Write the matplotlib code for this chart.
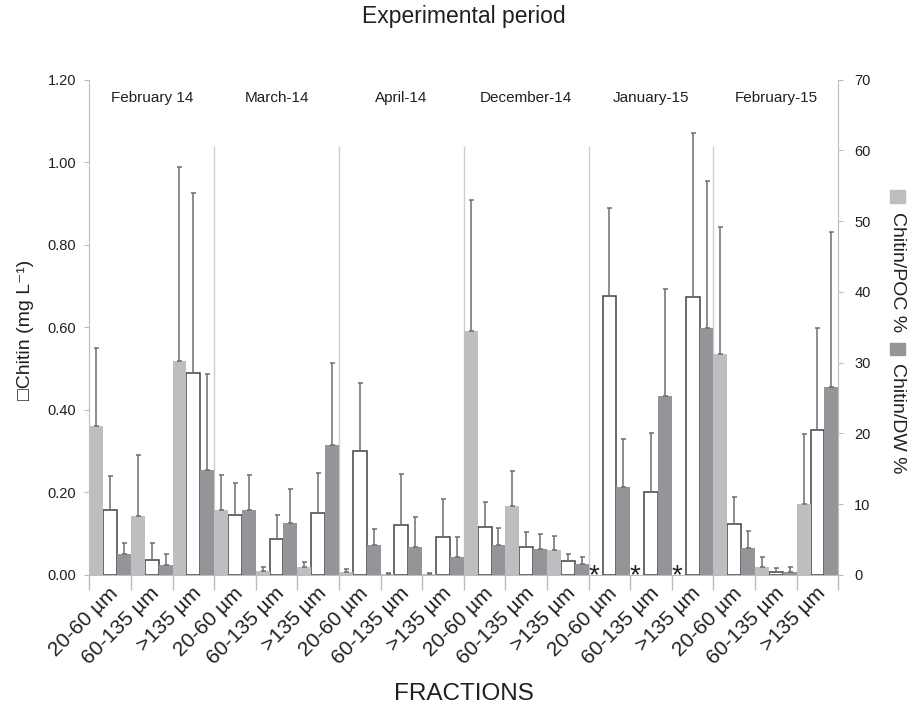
import matplotlib
matplotlib.use('Agg')
import matplotlib.pyplot as plt
import matplotlib.transforms as mtransforms
from matplotlib.patches import Rectangle
import numpy as np

nan = np.nan

periods = ['February 14', 'March-14', 'April-14', 'December-14', 'January-15', 'February-15']
fractions = ['20-60 µm', '60-135 µm', '>135 µm']

# Chitin concentration (mg/L) – white bars, left axis
chitin_mg = [0.157, 0.0375, 0.488, 0.146, 0.087, 0.151, 0.301, 0.121, 0.091,
             0.116, 0.068, 0.033, 0.676, 0.202, 0.673, 0.124, 0.007, 0.352]
chitin_mg_sd = [0.082, 0.0395, 0.436, 0.078, 0.058, 0.096, 0.163, 0.123, 0.092,
                0.062, 0.036, 0.018, 0.214, 0.143, 0.398, 0.065, 0.011, 0.247]
# Chitin/POC % – light grey bars, right axis (nan = not determined, '*')
poc_pct = [21.0, 8.4, 30.3, 9.2, 0.6, 1.1, 0.4, 0.15, 0.1,
           34.4, 9.7, 3.6, nan, nan, nan, 31.2, 1.2, 10.1]
poc_pct_sd = [11.1, 8.6, 27.3, 4.9, 0.6, 0.7, 0.4, 0.2, 0.2,
              18.6, 5.05, 1.9, nan, nan, nan, 18.0, 1.4, 9.8]
# Chitin/DW % – dark grey bars, right axis
dw_pct = [2.9, 1.4, 14.9, 9.2, 7.4, 18.3, 4.2, 4.0, 2.5,
          4.3, 3.7, 1.6, 12.4, 25.3, 34.9, 3.8, 0.44, 26.5]
dw_pct_sd = [1.6, 1.6, 13.5, 4.9, 4.7, 11.7, 2.3, 4.2, 2.8,
             2.4, 2.1, 0.9, 6.8, 15.1, 20.7, 2.4, 0.7, 22.0]

light = '#bcbec0'
dark = '#939598'
axis_grey = '#bdbdbd'
err_col = '#6d6e71'
txt = '#231f20'

plt.rcParams['font.family'] = ['Liberation Sans', 'DejaVu Sans']

W, H = 912, 709
fig = plt.figure(figsize=(W / 100, H / 100), dpi=100)
L, R, T, B = 89.3, 838.3, 79.5, 575
ax = fig.add_axes([L / W, 1 - B / H, (R - L) / W, (B - T) / H])
ax2 = ax.twinx()

n = len(chitin_mg)
idx = np.arange(n)
w = 1 / 3
x_poc = idx + w / 2
x_mg = idx + 1.5 * w
x_dw = idx + 2.5 * w

poc = np.array(poc_pct, dtype=float)
poc_sd = np.array(poc_pct_sd, dtype=float)
valid = ~np.isnan(poc)

# white bars (left axis)
ax.bar(x_mg, chitin_mg, width=w, color='white', edgecolor='#414042', linewidth=1.1, zorder=2)
ax.errorbar(x_mg, chitin_mg, yerr=[np.zeros(n), chitin_mg_sd], fmt='none',
            ecolor=err_col, elinewidth=1.1, capsize=1.8, capthick=1.1, zorder=3)

# grey bars (right axis)
ax2.bar(x_poc[valid], poc[valid], width=w, color=light, linewidth=0, zorder=2)
ax2.errorbar(x_poc[valid], poc[valid], yerr=[np.zeros(valid.sum()), poc_sd[valid]], fmt='none',
             ecolor=err_col, elinewidth=1.1, capsize=1.8, capthick=1.1, zorder=3)
ax2.bar(x_dw, dw_pct, width=w, color=dark, linewidth=0, zorder=2)
ax2.errorbar(x_dw, dw_pct, yerr=[np.zeros(n), dw_pct_sd], fmt='none',
             ecolor=err_col, elinewidth=1.1, capsize=1.8, capthick=1.1, zorder=3)

# asterisks for missing Chitin/POC
off = mtransforms.ScaledTranslation(0, -6 / 72, fig.dpi_scale_trans)
for i in idx[~valid]:
    ax.text(i + 0.12, 0, '*', ha='center', va='baseline', fontsize=20, color=txt,
            transform=ax.transData + off, zorder=4)

# period separators
ax.vlines([3, 6, 9, 12, 15], 0, 1.038, color='#cfcfcf', linewidth=1.0, zorder=0.5)

# period labels
for k, p in enumerate(periods):
    ax.text(3 * k + 1.5, 1.154, p, ha='center', va='center', fontsize=11, color=txt)

# axes limits / ticks
ax.set_xlim(0, n)
ax.set_ylim(0, 1.2)
ax2.set_ylim(0, 70)
ax.set_yticks(np.arange(0, 1.21, 0.2))
ax.set_yticklabels(['%.2f' % v for v in np.arange(0, 1.21, 0.2)])
ax2.set_yticks(np.arange(0, 71, 10))

ax.set_xticks(idx + 0.5)
ax.set_xticklabels([fractions[i % 3] for i in idx], rotation=45, ha='right',
                   rotation_mode='anchor', va='center', fontsize=15, color=txt)
ax.set_xticks(np.arange(n + 1), minor=True)
ax.tick_params(axis='x', which='major', length=0, pad=11)
ax.tick_params(axis='x', which='minor', length=11, color=axis_grey, width=1)
shift = mtransforms.ScaledTranslation(5 / 100, 0, fig.dpi_scale_trans)
for lab in ax.get_xticklabels():
    lab.set_transform(lab.get_transform() + shift)

ax.tick_params(axis='y', length=3.5, color=axis_grey, labelsize=10.5, labelcolor=txt, pad=6)
ax2.tick_params(axis='y', length=3.5, color=axis_grey, labelsize=10.5, labelcolor=txt, pad=8)

for s in ['top', 'right']:
    ax.spines[s].set_visible(False)
for s in ['top', 'left', 'bottom']:
    ax2.spines[s].set_visible(False)
for s in ['left', 'bottom']:
    ax.spines[s].set_color(axis_grey)
ax2.spines['right'].set_color(axis_grey)

# texts
fig.text(463.8 / W, 1 - 17 / H, 'Experimental period', ha='center', va='center',
         fontsize=16.5, color=txt)
fig.text(464 / W, 1 - 694 / H, 'FRACTIONS', ha='center', va='center', fontsize=17.5, color=txt)
fig.text(26 / W, 1 - 330 / H, '□Chitin (mg L⁻¹)', rotation=90, ha='center', va='center',
         fontsize=14, color=txt)

# legend (vertical)
fig.patches.append(Rectangle((890 / W, 1 - 203 / H), 15 / W, 13 / H, color=light,
                             transform=fig.transFigure, figure=fig))
fig.patches.append(Rectangle((890 / W, 1 - 355 / H), 15 / W, 12 / H, color=dark,
                             transform=fig.transFigure, figure=fig))
fig.text(898 / W, 1 - 212 / H, 'Chitin/POC %', rotation=270, ha='center', va='top',
         fontsize=14, color=txt)
fig.text(898 / W, 1 - 363 / H, 'Chitin/DW %', rotation=270, ha='center', va='top',
         fontsize=14, color=txt)

fig.savefig('out.png', dpi=100)
